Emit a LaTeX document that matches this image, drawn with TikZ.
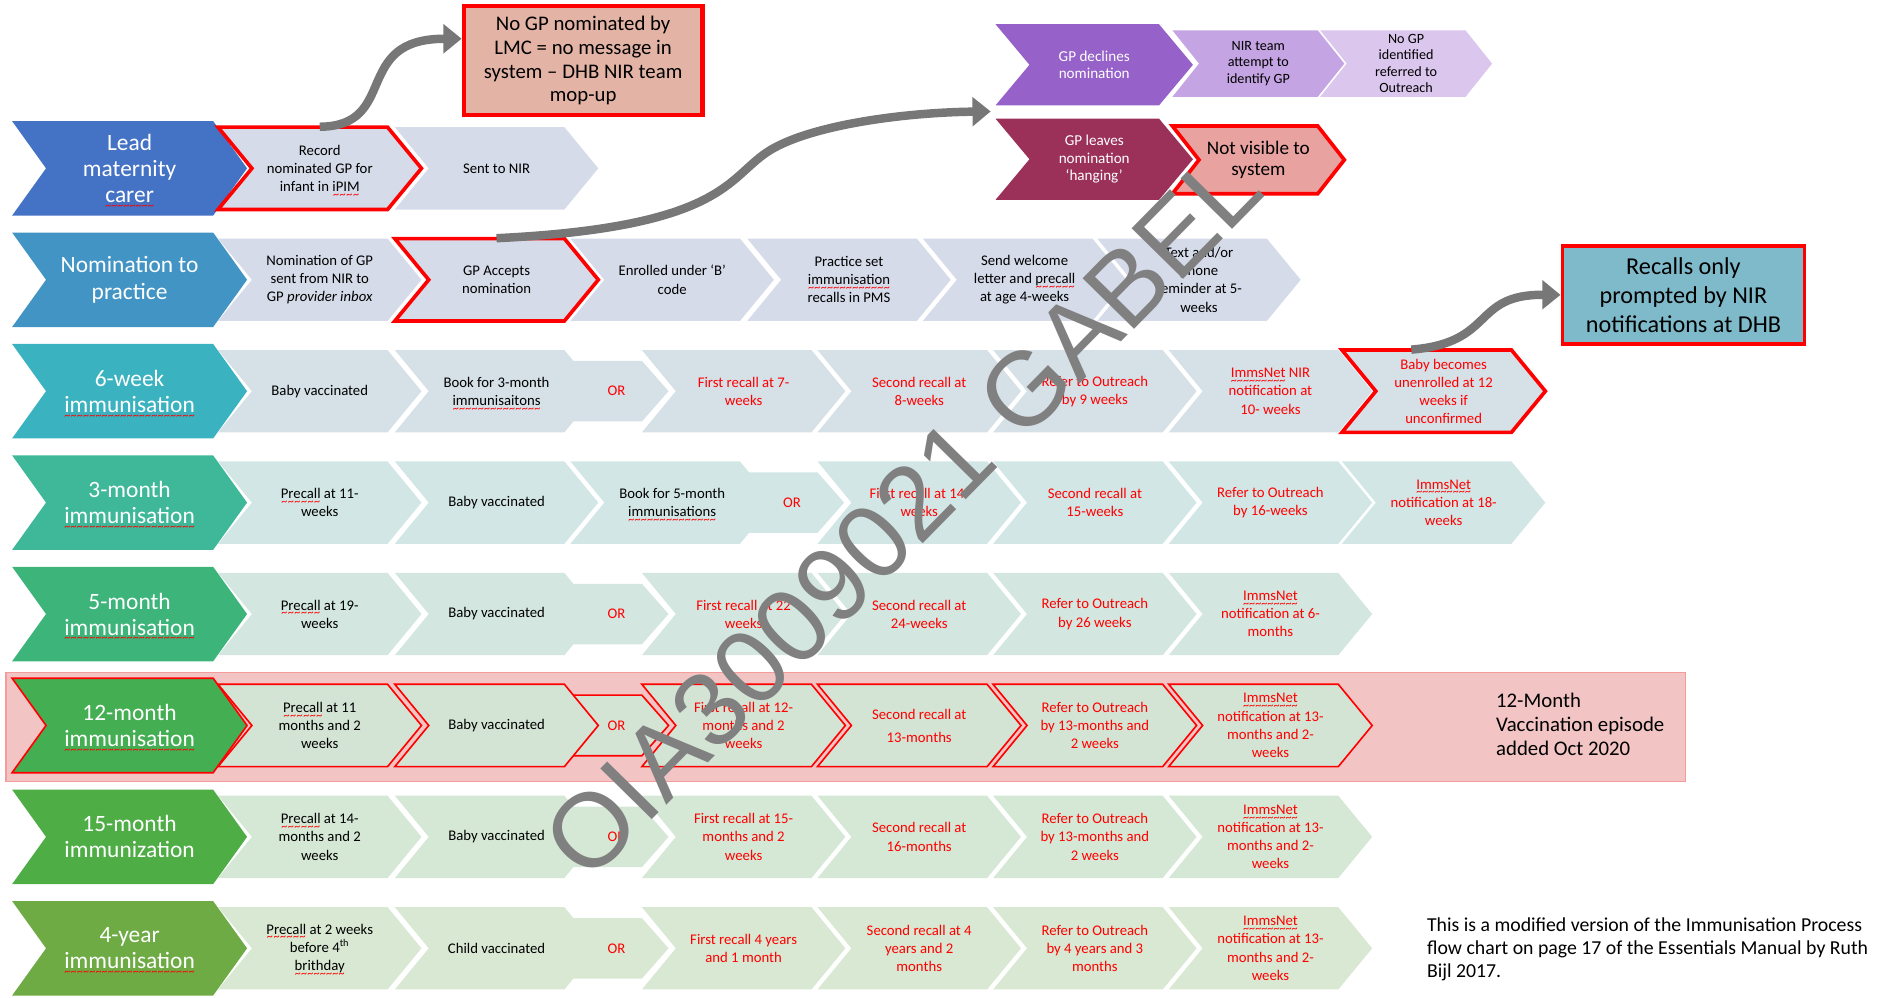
\documentclass[tikz,border=0pt]{standalone}
\usepackage{fontspec}
\setmainfont{Carlito}
\newfontfamily\wmfont{Liberation Sans}
\usetikzlibrary{arrows.meta}

\definecolor{hA}{HTML}{4472C4}
\definecolor{hB}{HTML}{4294C4}
\definecolor{hC}{HTML}{3AB2BF}
\definecolor{hD}{HTML}{3EB899}
\definecolor{hE}{HTML}{3CB47A}
\definecolor{hF}{HTML}{44AE53}
\definecolor{hG}{HTML}{4FAD46}
\definecolor{hH}{HTML}{6EAB45}
\definecolor{bA}{HTML}{D5DBE9}
\definecolor{bC}{HTML}{D5E0E7}
\definecolor{bD}{HTML}{D3E6E6}
\definecolor{bE}{HTML}{D3E6DF}
\definecolor{bF}{HTML}{D3E3D4}
\definecolor{bG}{HTML}{D5E8D5}
\definecolor{bH}{HTML}{D8E8D2}
\definecolor{pA}{HTML}{9661C8}
\definecolor{pB}{HTML}{C4A4E2}
\definecolor{pC}{HTML}{DBC6EE}
\definecolor{mA}{HTML}{9B3158}
\definecolor{salm}{HTML}{E8A2A0}
\definecolor{nogpc}{HTML}{E3B4A6}
\definecolor{recc}{HTML}{7FBACA}
\definecolor{pinkbg}{HTML}{F2C4C4}
\definecolor{pinkline}{HTML}{F49C9C}
\definecolor{arrowgray}{HTML}{777777}
\definecolor{wmgray}{HTML}{808080}

\newcommand{\pxu}{0.6pt}
% wavy spell-check underline
\newcommand{\squig}[1]{\setbox0=\hbox{#1}\rlap{\raisebox{-3.4pt}[0pt][0pt]{\color{red}\fontsize{6}{6}\selectfont\hbox to \wd0{\xleaders\hbox{\char126}\hfill}}}\box0\relax}
% chevron: path style, x, y, width, height, tip, name, text style, text
\newcommand{\chev}[9]{%
  \path[#1] (#2,#3-#5/2) -- ++(#4-#6,0) -- ++(#6,#5/2) -- ++(-#6,#5/2)
    -- ++(#6-#4,0) -- ++(#6,-#5/2) -- cycle;
  \node[#8, minimum height={#5*\pxu}] (#7) at (#2+#4/2,#3) {#9};}

\begin{document}
\begin{tikzpicture}[x=0.6pt, y=-0.6pt,
  txt/.style={font=\fontsize{7.3}{9}\selectfont, align=center, inner sep=1pt},
  rtxt/.style={txt, text=red},
  htxt/.style={font=\fontsize{11.6}{12.9}\selectfont, align=center, text=white, inner sep=1pt},
  wtxt/.style={font=\fontsize{7.5}{8.6}\selectfont, align=center, text=white, inner sep=1pt},
  ptxt/.style={font=\fontsize{7}{8.1}\selectfont, align=center, inner sep=1pt},
  nvtxt/.style={font=\fontsize{9.5}{10}\selectfont, align=center, inner sep=1pt},
  redline/.style={draw=red, line width=1.8pt},
  thinred/.style={draw=red, line width=0.8pt},
  bendarrow/.style={draw=arrowgray, line width=4.2pt, -{Triangle[length=9pt, width=14pt]}}]

\useasboundingbox (0,0) rectangle (1568,824);

% Lead maternity carer
\chev{fill=hA}{10}{139}{194}{78}{28}{h1}{htxt}{Lead\\maternity\\\squig{carer}}
\chev{fill=bA, redline}{180}{139}{168}{68}{28}{rec}{txt}{Record\\nominated GP for\\infant in \squig{iPIM}}
\chev{fill=bA}{326}{139}{168}{68}{28}{sent}{txt}{Sent to NIR}

\node[fill=nogpc, draw=red, line width=2.2pt, minimum width={197*\pxu}, minimum height={90*\pxu},
  font=\fontsize{10.3}{11.8}\selectfont, align=center] (nogp) at (481.5,50)
  {No GP nominated by\\LMC = no message in\\system -- DHB NIR team\\mop-up};

% Nomination to practice
\chev{fill=hB}{10}{231}{194}{78}{28}{h2}{htxt}{Nomination to\\practice}
\chev{fill=bA}{180}{231}{168}{68}{28}{r2a}{txt}{Nomination of GP\\sent from NIR to\\GP \textit{provider inbox}}
\chev{fill=bA, redline}{326}{231}{168}{68}{28}{acc}{txt}{GP Accepts\\nomination}
\chev{fill=bA}{471}{231}{168}{68}{28}{r2c}{txt}{Enrolled under `B'\\code}
\chev{fill=bA}{617}{231}{168}{68}{28}{r2d}{txt}{Practice set\\\squig{immunisation}\\recalls in PMS}
\chev{fill=bA}{762}{231}{168}{68}{28}{r2e}{txt}{Send welcome\\letter and \squig{precall}\\at age 4-weeks}
\chev{fill=bA}{906}{231}{168}{68}{28}{r2f}{txt}{Text and/or\\phone\\reminder at 5-\\weeks}

% GP declines / leaves
\chev{fill=pA}{822}{53.5}{163}{67}{28}{decl}{wtxt}{GP declines\\nomination}
\chev{fill=pB}{968}{52.5}{142}{55}{22}{nirteam}{ptxt}{NIR team\\attempt to\\identify GP}
\chev{fill=pC}{1090}{52.5}{142}{55}{22}{nogpid}{ptxt}{No GP\\identified\\referred to\\Outreach}
\chev{fill=mA}{822}{131.5}{163}{67}{28}{leave}{wtxt}{GP leaves\\nomination\\`hanging'}
\chev{fill=salm, redline}{968}{132}{142}{56}{22}{notvis}{nvtxt}{Not visible to\\system}
\coordinate (split) at (818,92);

% 6-week
\chev{fill=hC}{10}{323}{194}{78}{28}{h3}{htxt}{6-week\\\squig{immunisation}}
\chev{fill=bC}{180}{323}{168}{68}{28}{r3a}{txt}{Baby vaccinated}
\chev{fill=bC}{466}{323}{86}{50}{22}{or3}{rtxt}{OR}
\chev{fill=bC}{326}{323}{168}{68}{28}{r3b}{txt}{Book for 3-month\\\squig{immunisaitons}}
\chev{fill=bC}{530}{323}{168}{68}{28}{r3c}{rtxt}{First recall at 7-\\weeks}
\chev{fill=bC}{675}{323}{168}{68}{28}{r3d}{rtxt}{Second recall at\\8-weeks}
\chev{fill=bC}{820}{323}{168}{68}{28}{r3e}{rtxt}{Refer to Outreach\\by 9 weeks}
\chev{fill=bC}{965}{323}{168}{68}{28}{r3f}{rtxt}{\squig{ImmsNet} NIR\\notification at\\10- weeks}
\chev{fill=bC, redline}{1108}{323}{168}{68}{28}{unenr}{rtxt}{Baby becomes\\unenrolled at 12\\weeks if\\unconfirmed}

\node[fill=recc, draw=red, line width=1.8pt, minimum width={200*\pxu}, minimum height={81*\pxu},
  font=\fontsize{12}{14.4}\selectfont, align=center] (recalls) at (1390,243.5)
  {Recalls only\\prompted by NIR\\notifications at DHB};

% 3-month
\chev{fill=hD}{10}{415}{194}{78}{28}{h4}{htxt}{3-month\\\squig{immunisation}}
\chev{fill=bD}{180}{415}{168}{68}{28}{r4a}{txt}{\squig{Precall} at 11-\\weeks}
\chev{fill=bD}{326}{415}{168}{68}{28}{r4b}{txt}{Baby vaccinated}
\chev{fill=bD}{611}{415}{86}{50}{22}{or4}{rtxt}{OR}
\chev{fill=bD}{471}{415}{168}{68}{28}{r4c}{txt}{Book for 5-month\\\squig{immunisations}}
\chev{fill=bD}{675}{415}{168}{68}{28}{r4d}{rtxt}{First recall at 14-\\weeks}
\chev{fill=bD}{820}{415}{168}{68}{28}{r4e}{rtxt}{Second recall at\\15-weeks}
\chev{fill=bD}{965}{415}{168}{68}{28}{r4f}{rtxt}{Refer to Outreach\\by 16-weeks}
\chev{fill=bD}{1108}{415}{168}{68}{28}{r4g}{rtxt}{\squig{ImmsNet}\\notification at 18-\\weeks}

% 5-month
\chev{fill=hE}{10}{507}{194}{78}{28}{h5}{htxt}{5-month\\\squig{immunisation}}
\chev{fill=bE}{180}{507}{168}{68}{28}{r5a}{txt}{\squig{Precall} at 19-\\weeks}
\chev{fill=bE}{466}{507}{86}{50}{22}{or5}{rtxt}{OR}
\chev{fill=bE}{326}{507}{168}{68}{28}{r5b}{txt}{Baby vaccinated}
\chev{fill=bE}{530}{507}{168}{68}{28}{r5c}{rtxt}{First recall at 22\\weeks}
\chev{fill=bE}{675}{507}{168}{68}{28}{r5d}{rtxt}{Second recall at\\24-weeks}
\chev{fill=bE}{820}{507}{168}{68}{28}{r5e}{rtxt}{Refer to Outreach\\by 26 weeks}
\chev{fill=bE}{965}{507}{168}{68}{28}{r5f}{rtxt}{\squig{ImmsNet}\\notification at 6-\\months}

% 12-month
\path[fill=pinkbg, draw=pinkline, line width=0.6pt] (5,555) rectangle (1392,645);
\chev{fill=hF, thinred}{10}{599}{194}{78}{28}{h6}{htxt}{12-month\\\squig{immunisation}}
\chev{fill=bF, thinred}{180}{599}{168}{68}{28}{r6a}{txt}{\squig{Precall} at 11\\months and 2\\weeks}
\chev{fill=bF, thinred}{466}{599}{86}{50}{22}{or6}{rtxt}{OR}
\chev{fill=bF, thinred}{326}{599}{168}{68}{28}{r6b}{txt}{Baby vaccinated}
\chev{fill=bF, thinred}{530}{599}{168}{68}{28}{r6c}{rtxt}{First recall at 12-\\months and 2\\weeks}
\chev{fill=bF, thinred}{675}{599}{168}{68}{28}{r6d}{rtxt}{Second recall at\\[2.4pt]13-months}
\chev{fill=bF, thinred}{820}{599}{168}{68}{28}{r6e}{rtxt}{Refer to Outreach\\by 13-months and\\2 weeks}
\chev{fill=bF, thinred}{965}{599}{168}{68}{28}{r6f}{rtxt}{\squig{ImmsNet}\\notification at 13-\\months and 2-\\weeks}
\node[anchor=west, align=left, font=\fontsize{10.3}{12}\selectfont, inner sep=0pt] (added) at (1235,598)
  {12-Month\\Vaccination episode\\added Oct 2020};

% 15-month
\chev{fill=hG}{10}{691}{194}{78}{28}{h7}{htxt}{15-month\\immunization}
\chev{fill=bG}{180}{691}{168}{68}{28}{r7a}{txt}{\squig{Precall} at 14-\\months and 2\\weeks}
\chev{fill=bG}{466}{691}{86}{50}{22}{or7}{rtxt}{OR}
\chev{fill=bG}{326}{691}{168}{68}{28}{r7b}{txt}{Baby vaccinated}
\chev{fill=bG}{530}{691}{168}{68}{28}{r7c}{rtxt}{First recall at 15-\\months and 2\\weeks}
\chev{fill=bG}{675}{691}{168}{68}{28}{r7d}{rtxt}{Second recall at\\16-months}
\chev{fill=bG}{820}{691}{168}{68}{28}{r7e}{rtxt}{Refer to Outreach\\by 13-months and\\2 weeks}
\chev{fill=bG}{965}{691}{168}{68}{28}{r7f}{rtxt}{\squig{ImmsNet}\\notification at 13-\\months and 2-\\weeks}

% 4-year
\chev{fill=hH}{10}{783}{194}{78}{28}{h8}{htxt}{4-year\\\squig{immunisation}}
\chev{fill=bH}{180}{783}{168}{68}{28}{r8a}{txt}{\squig{Precall} at 2 weeks\\before 4\textsuperscript{th}\\\squig{brithday}}
\chev{fill=bH}{466}{783}{86}{50}{22}{or8}{rtxt}{OR}
\chev{fill=bH}{326}{783}{168}{68}{28}{r8b}{txt}{Child vaccinated}
\chev{fill=bH}{530}{783}{168}{68}{28}{r8c}{rtxt}{First recall 4 years\\and 1 month}
\chev{fill=bH}{675}{783}{168}{68}{28}{r8d}{rtxt}{Second recall at 4\\years and 2\\months}
\chev{fill=bH}{820}{783}{168}{68}{28}{r8e}{rtxt}{Refer to Outreach\\by 4 years and 3\\months}
\chev{fill=bH}{965}{783}{168}{68}{28}{r8f}{rtxt}{\squig{ImmsNet}\\notification at 13-\\months and 2-\\weeks}
\node[anchor=west, align=left, font=\fontsize{9.8}{11.4}\selectfont, inner sep=0pt] (source) at (1178,784)
  {This is a modified version of the Immunisation Process\\flow chart on page 17 of the Essentials Manual by Ruth\\Bijl 2017.};

% curved arrows
\draw[bendarrow] (rec.north) .. controls (330,104) and (290,32) .. ([yshift=10.8pt]nogp.west);
\draw[bendarrow] (acc.north) .. controls (590,188) and (600,150) .. (630,128)
  .. controls (660,105) and (740,93) .. (split);
\draw[bendarrow] ([xshift=-16pt]unenr.north) .. controls (1235,283) and (1215,243) .. (recalls.west);

% watermark
\node[text=wmgray, font=\wmfont\fontsize{52}{52}\selectfont, rotate=45.5] (wm) at (745,424) {OIA3009021 GABEL};
\end{tikzpicture}
\end{document}
